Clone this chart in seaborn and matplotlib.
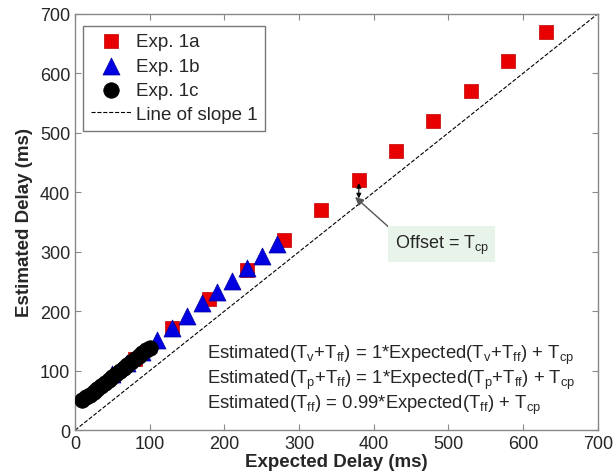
import numpy as np
import pandas as pd
import matplotlib
matplotlib.use("Agg")
import matplotlib.pyplot as plt
import seaborn as sns

# data
exp1a_x = [80, 130, 180, 230, 280, 330, 380, 430, 480, 530, 580, 630]
exp1a_y = [120, 172, 220, 270, 320, 370, 420, 470, 520, 570, 620, 670]

exp1b_x = [50, 70, 90, 110, 130, 150, 170, 190, 210, 230, 250, 270]
exp1b_y = [95, 113, 132, 152, 172, 192, 213, 232, 251, 272, 293, 313]

exp1c_x = [10, 15, 20, 25, 30, 35, 40, 45, 50, 55, 60, 65, 70, 75, 80, 85, 90, 95, 100]
exp1c_y = [50, 55, 60, 65, 70, 75, 80, 85, 90, 94, 99, 104, 109, 114, 119, 124, 129, 134, 139]

slope_x = [0, 700]
slope_y = [0, 700]

eq_lines = [
    r"Estimated(T$_\mathregular{v}$+T$_\mathregular{ff}$) = 1*Expected(T$_\mathregular{v}$+T$_\mathregular{ff}$) + T$_\mathregular{cp}$",
    r"Estimated(T$_\mathregular{p}$+T$_\mathregular{ff}$) = 1*Expected(T$_\mathregular{p}$+T$_\mathregular{ff}$) + T$_\mathregular{cp}$",
    r"Estimated(T$_\mathregular{ff}$) = 0.99*Expected(T$_\mathregular{ff}$) + T$_\mathregular{cp}$",
]

sns.set_style("ticks")
plt.rcParams['font.family'] = ['Liberation Sans', 'DejaVu Sans']

fig = plt.figure(figsize=(6.15, 4.77), dpi=100)
ax = fig.add_axes([0.122, 0.096, 0.85, 0.873])

sns.scatterplot(x=exp1a_x, y=exp1a_y, marker='s', s=95, color='#e80000',
                edgecolor='#c00000', linewidth=0.5, label='Exp. 1a', ax=ax, zorder=3)
sns.scatterplot(x=exp1b_x, y=exp1b_y, marker='^', s=150, color='#0000e0',
                edgecolor='#0000a0', linewidth=0.5, label='Exp. 1b', ax=ax, zorder=4)
sns.scatterplot(x=exp1c_x, y=exp1c_y, marker='o', s=125, color='black',
                edgecolor='black', linewidth=0.5, label='Exp. 1c', ax=ax, zorder=5)
sns.lineplot(x=slope_x, y=slope_y, color='black', linestyle='--', linewidth=0.8,
             dashes=(2.5, 1.5), label='Line of slope 1', ax=ax, zorder=2)

ax.set_xlim(0, 700)
ax.set_ylim(0, 700)
ax.set_xticks(range(0, 701, 100))
ax.set_yticks(range(0, 701, 100))
ax.tick_params(direction='in', labelsize=13, top=True, right=True, length=4, color='#888888')
for sp in ax.spines.values():
    sp.set_color('#888888')
    sp.set_linewidth(1)
ax.set_xlabel('Expected Delay (ms)', fontsize=13.5, fontweight='bold', labelpad=1)
ax.set_ylabel('Estimated Delay (ms)', fontsize=13.5, fontweight='bold', labelpad=5)

leg = ax.legend(loc='upper left', bbox_to_anchor=(0.005, 0.985), fontsize=13.5,
                fancybox=False, edgecolor='#777777', framealpha=1,
                handlelength=2.2, handletextpad=0.2, borderpad=0.4, labelspacing=0.38,
                borderaxespad=0.3)
leg.get_frame().set_linewidth(1)

# offset annotation
ax.annotate('', xy=(380, 420), xytext=(380, 385),
            arrowprops=dict(arrowstyle='<|-|>', color='black', lw=0.8, mutation_scale=7))
ax.annotate(r'Offset = T$_\mathregular{cp}$', xy=(375, 392), xytext=(428, 313),
            fontsize=13, va='center', ha='left',
            bbox=dict(boxstyle='square,pad=0.35', fc='#e8f3ea', ec='none'),
            arrowprops=dict(arrowstyle='-|>', color='#555555', lw=1, mutation_scale=12,
                            shrinkA=0, shrinkB=0, relpos=(0, 1)))

for i, line in enumerate(eq_lines):
    ax.text(177, 128 - i * 42, line, fontsize=13.3, ha='left', va='center')

fig.savefig('out.png', dpi=100)
